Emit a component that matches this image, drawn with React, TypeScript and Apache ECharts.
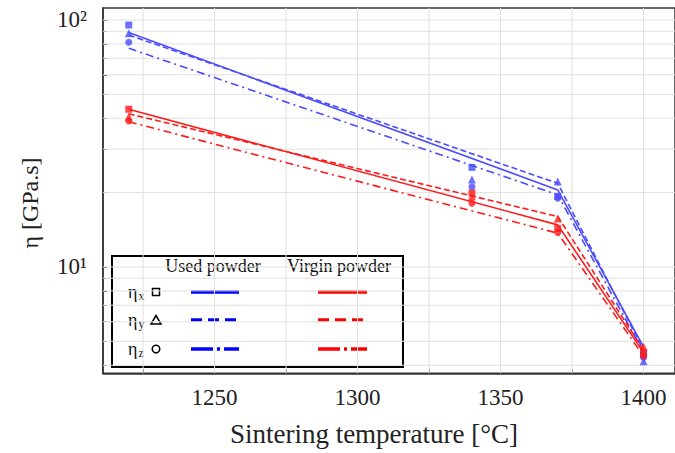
import React, { useEffect, useRef } from 'react';
import * as echarts from 'echarts';

// Sintering temperatures (°C)
const markerTemps = [1220, 1340, 1370, 1400];
const fitTemps = [1220, 1370, 1400];

// Measured viscosities η [GPa.s] — used powder
const usedEtaX = [95.4, 25.3, 19.3, 4.45];
const usedEtaY = [88.3, 22.6, 22.2, 4.15];
const usedEtaZ = [81.2, 21.1, 19.0, 4.3];
// Measured viscosities — virgin powder
const virginEtaX = [43.5, 19.9, 14.3, 4.5];
const virginEtaY = [40.6, 19.3, 15.7, 4.75];
const virginEtaZ = [39.0, 18.1, 13.8, 4.35];

// Fitted lines
const usedFitX = [88.9, 20.5, 4.75];
const usedFitY = [86.9, 21.8, 4.6];
const usedFitZ = [76.8, 19.6, 4.5];
const virginFitX = [43.5, 14.8, 4.5];
const virginFitY = [41.7, 16.0, 4.6];
const virginFitZ = [38.7, 13.7, 4.35];

// Axis ticks / labels
const xMin = 1211;
const xMax = 1411;
const yMin = 3.71;
const yMax = 111.8;
const xTicks = [1225, 1250, 1275, 1300, 1325, 1350, 1375, 1400];
const xLabels = [1250, 1300, 1350, 1400];
const yGrid = [4, 5, 6, 7, 8, 9, 10, 20, 30, 40, 50, 60, 70, 80, 90, 100];
const yLabels = [10, 100];
const supDigits: Record<number, string> = { 1: '¹', 2: '²' };

const FONT = 'Liberation Serif';
const BLUE = '#4b4bff';
const RED = '#ff1a1a';
const DASH = [6, 3];
const DASHDOT = [8, 4, 2, 4];
const GRID_COLOR = '#e0e0e0';

export default function App() {
  const ref = useRef<HTMLDivElement>(null);
  useEffect(() => {
    document.body.style.margin = '0';
    if (!ref.current) return;
    const chart = echarts.init(ref.current, null, { renderer: 'svg' });

    const fit = (data: number[], color: string, type: any) => ({
      type: 'line',
      data: fitTemps.map((t, i) => [t, data[i]]),
      symbol: 'none',
      showSymbol: false,
      silent: true,
      z: 3,
      lineStyle: { color, width: 1.6, type },
    });
    const pts = (data: number[], color: string, symbol: string, size: number) => ({
      type: 'scatter',
      data: markerTemps.map((t, i) => [t, data[i]]),
      symbol,
      symbolSize: size,
      silent: true,
      z: 4,
      itemStyle: { color },
    });
    const gridLine = (data: number[][]) => ({
      type: 'line',
      data,
      symbol: 'none',
      showSymbol: false,
      silent: true,
      z: 1,
      lineStyle: { color: GRID_COLOR, width: 1 },
    });
    const gridSeries = [
      ...xTicks.map((v) => gridLine([[v, yMin], [v, yMax]])),
      ...yGrid.map((v) => gridLine([[xMin, v], [xMax, v]])),
    ];

    const legendRows = [
      { y: 292, sub: 'x', dash: undefined as any },
      { y: 320, sub: 'y', dash: [11, 6] },
      { y: 349, sub: 'z', dash: [22, 4, 3, 4] },
    ];
    const legendEls: any[] = [
      {
        type: 'rect',
        shape: { x: 112, y: 256, width: 291, height: 111 },
        style: { fill: '#fff', stroke: '#000', lineWidth: 2 },
      },
      {
        type: 'text', x: 213, y: 266,
        style: { text: 'Used powder', fontFamily: FONT, fontSize: 18, fill: '#111', align: 'center', verticalAlign: 'middle' },
      },
      {
        type: 'text', x: 339, y: 266,
        style: { text: 'Virgin powder', fontFamily: FONT, fontSize: 18, fill: '#111', align: 'center', verticalAlign: 'middle' },
      },
    ];
    legendRows.forEach((r) => {
      legendEls.push({
        type: 'text', x: 128, y: r.y,
        style: {
          text: `{e|η}{s|${r.sub}}`,
          align: 'left', verticalAlign: 'middle',
          rich: {
            e: { fontFamily: FONT, fontSize: 18, fill: '#111' },
            s: { fontFamily: FONT, fontSize: 12, fill: '#111', padding: [8, 0, 0, 1] },
          },
        },
      });
      const blueStyle: any = { stroke: '#0000ff', lineWidth: 3.5 };
      const redStyle: any = { stroke: '#ff0000', lineWidth: 3.5 };
      if (r.dash) {
        blueStyle.lineDash = r.dash;
        redStyle.lineDash = r.dash;
      }
      legendEls.push({ type: 'line', shape: { x1: 191, y1: r.y, x2: 239, y2: r.y }, style: blueStyle });
      legendEls.push({ type: 'line', shape: { x1: 318, y1: r.y, x2: 367, y2: r.y }, style: redStyle });
    });
    legendEls.push({
      type: 'rect', shape: { x: 152.5, y: 288.5, width: 7, height: 7 },
      style: { fill: 'none', stroke: '#000', lineWidth: 1.5 },
    });
    legendEls.push({
      type: 'polygon', shape: { points: [[156, 315.5], [161, 324], [151, 324]] },
      style: { fill: 'none', stroke: '#000', lineWidth: 1.5 },
    });
    legendEls.push({
      type: 'circle', shape: { cx: 156, cy: 349, r: 3.8 },
      style: { fill: 'none', stroke: '#000', lineWidth: 1.5 },
    });

    chart.setOption({
      animation: false,
      backgroundColor: '#fff',
      grid: {
        left: 103, top: 8, width: 582, height: 365.3,
        show: true, borderColor: '#333', borderWidth: 1.5,
      },
      xAxis: {
        type: 'value', min: xMin, max: xMax,
        axisLine: { show: true, lineStyle: { color: '#333', width: 1.5 } },
        axisTick: { show: true, inside: true, length: 4, customValues: xTicks, lineStyle: { color: '#555' } },
        axisLabel: {
          customValues: xLabels, fontFamily: FONT, fontSize: 23, color: '#222', margin: 13,
          formatter: (v: number) => String(v),
        },
        splitLine: { show: false },
      },
      yAxis: {
        type: 'log', logBase: 10, min: yMin, max: yMax,
        axisLine: { show: true, lineStyle: { color: '#333', width: 1.5 } },
        axisTick: { show: true, inside: true, length: 4, customValues: yGrid, lineStyle: { color: '#555' } },
        axisLabel: {
          customValues: yLabels, fontFamily: FONT, fontSize: 23, color: '#222', margin: 16,
          formatter: (v: number) => '10' + (supDigits[Math.round(Math.log10(v))] || ''),
        },
        splitLine: { show: false },
        minorTick: { show: false },
      },
      graphic: [
        {
          type: 'text', x: 30, y: 203, rotation: Math.PI / 2,
          style: { text: 'η [GPa.s]', fontFamily: FONT, fontSize: 24, fill: '#222', align: 'center', verticalAlign: 'middle' },
        },
        {
          type: 'text', x: 374, y: 434,
          style: { text: 'Sintering temperature [°C]', fontFamily: FONT, fontSize: 27, fill: '#222', align: 'center', verticalAlign: 'middle' },
        },
        { type: 'group', z: 100, children: legendEls },
      ],
      series: [
        ...gridSeries,
        fit(usedFitX, BLUE, 'solid'),
        fit(usedFitY, BLUE, DASH),
        fit(usedFitZ, BLUE, DASHDOT),
        fit(virginFitX, RED, 'solid'),
        fit(virginFitY, RED, DASH),
        fit(virginFitZ, RED, DASHDOT),
        pts(usedEtaX, BLUE, 'rect', 7),
        pts(usedEtaY, BLUE, 'triangle', 8),
        pts(usedEtaZ, BLUE, 'circle', 7),
        pts(virginEtaX, RED, 'rect', 7),
        pts(virginEtaY, RED, 'triangle', 8),
        pts(virginEtaZ, RED, 'circle', 7),
      ],
    });
    return () => chart.dispose();
  }, []);
  return <div ref={ref} style={{ width: 675, height: 453, overflow: 'hidden' }} />;
}
